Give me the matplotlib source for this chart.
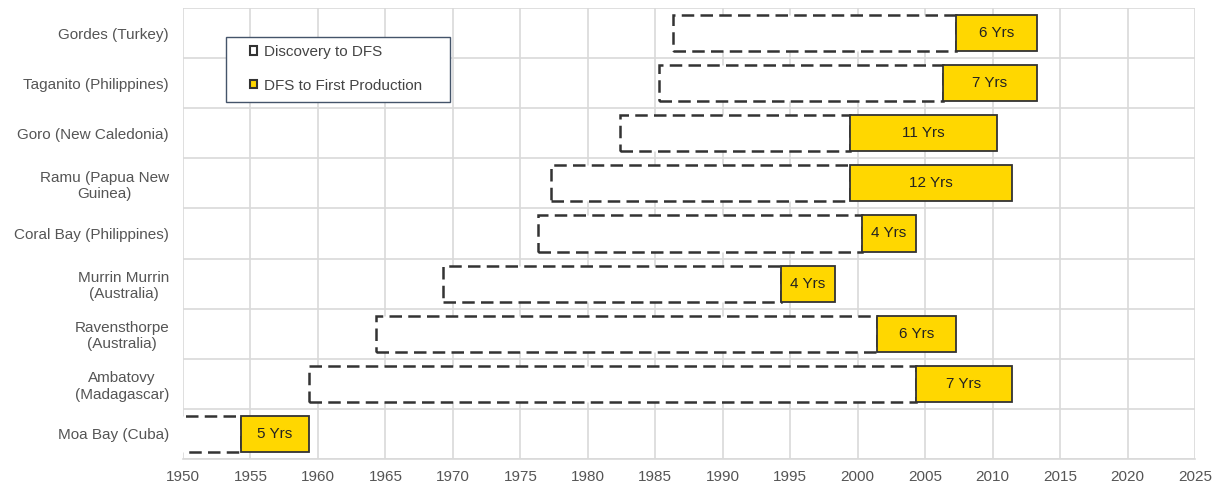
import matplotlib
matplotlib.use("Agg")
import matplotlib.pyplot as plt
from matplotlib.patches import Patch, Rectangle

projects = ["Moa Bay (Cuba)", "Ambatovy\n(Madagascar)", "Ravensthorpe\n(Australia)",
            "Murrin Murrin\n(Australia)", "Coral Bay (Philippines)", "Ramu (Papua New\nGuinea)",
            "Goro (New Caledonia)", "Taganito (Philippines)", "Gordes (Turkey)"]
discovery = [1949.0, 1959.3, 1964.3, 1969.3, 1976.3, 1977.3, 1982.4, 1985.3, 1986.3]
dfs = [1954.3, 2004.3, 2001.4, 1994.3, 2000.3, 1999.4, 1999.4, 2006.3, 2007.3]
production = [1959.3, 2011.4, 2007.3, 1998.3, 2004.3, 2011.4, 2010.3, 2013.3, 2013.3]
bar_labels = ["5 Yrs", "7 Yrs", "6 Yrs", "4 Yrs", "4 Yrs", "12 Yrs", "11 Yrs", "7 Yrs", "6 Yrs"]
xticks = list(range(1950, 2026, 5))

plt.rcParams['font.family'] = ['Liberation Sans', 'DejaVu Sans']

fig = plt.figure(figsize=(12.12, 4.86), dpi=100)
ax = fig.add_axes([0.151, 0.0556, 0.835, 0.928])

y = list(range(len(projects)))
h = 0.72
w1 = [d - s for s, d in zip(discovery, dfs)]
w2 = [p - d for d, p in zip(dfs, production)]

ax.barh(y, w1, left=discovery, height=h, color="white", edgecolor="#333333",
        linestyle=(0, (5, 2.5)), linewidth=1.8, zorder=3, label="Discovery to DFS")
ax.barh(y, w2, left=dfs, height=h, color="#FFD700", edgecolor="#333333",
        linewidth=1.3, zorder=4, label="DFS to First Production")

for yi, d, p, lab in zip(y, dfs, production, bar_labels):
    ax.text((d + p) / 2, yi, lab, ha="center", va="center", fontsize=11,
            color="#222222", zorder=5)

ax.set_xlim(1950, 2025)
ax.set_ylim(-0.5, len(projects) - 0.5)
ax.set_xticks(xticks)
ax.set_xticklabels([str(t) for t in xticks], fontsize=11, color="#555555")
ax.set_yticks(y)
ax.set_yticklabels(projects, fontsize=11, color="#555555", multialignment="center")
ax.tick_params(axis="x", length=0, pad=8)
ax.tick_params(axis="y", length=0, pad=10)

ax.set_yticks([i - 0.5 for i in range(len(projects) + 1)], minor=True)
ax.grid(axis="x", color="#d9d9d9", linewidth=1.2, zorder=0)
ax.grid(axis="y", which="minor", color="#d9d9d9", linewidth=1.2, zorder=0)
ax.grid(axis="y", which="major", visible=False)
ax.tick_params(axis="y", which="minor", length=0)
for s in ["top", "right", "left"]:
    ax.spines[s].set_visible(False)
ax.spines["bottom"].set_color("#d9d9d9")
ax.spines["bottom"].set_linewidth(1.2)

# legend frame
frame = Rectangle((0.0422, 0.7916), 0.2216, 0.1448, transform=ax.transAxes,
                  facecolor="white", edgecolor="#44546a", linewidth=1.0, zorder=9)
ax.add_patch(frame)

handles = [Patch(facecolor="white", edgecolor="#333333", linewidth=1.5, label="Discovery to DFS"),
           Patch(facecolor="#FFD700", edgecolor="#333333", linewidth=1.5, label="DFS to First Production")]
leg = ax.legend(handles=handles, loc="center left", bbox_to_anchor=(0.0665, 0.865),
                fontsize=11, frameon=False, handlelength=0.45,
                handleheight=0.45, handletextpad=0.45, labelspacing=1.3,
                borderpad=0, borderaxespad=0)
for t in leg.get_texts():
    t.set_color("#444444")
leg.set_zorder(10)

fig.savefig("out.png", dpi=100, facecolor="white")
